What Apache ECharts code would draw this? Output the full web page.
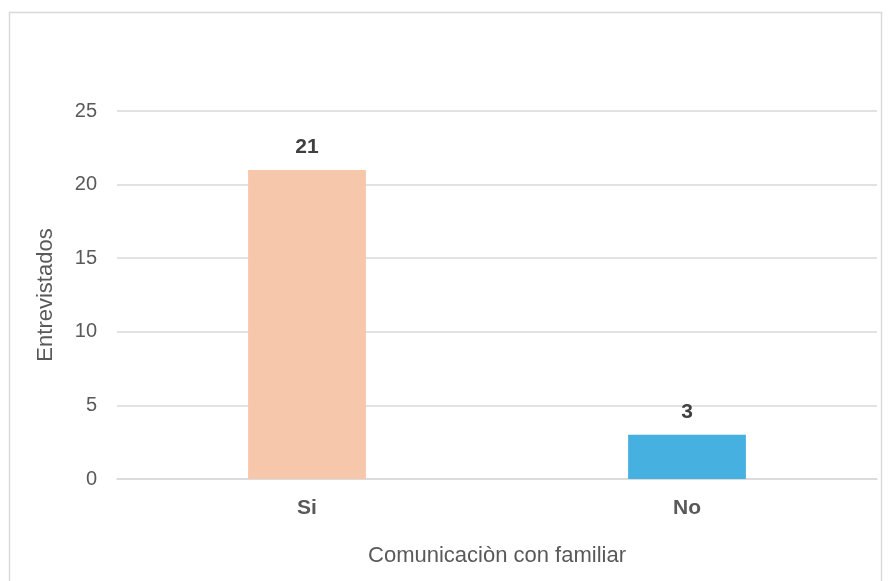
<!DOCTYPE html>
<html><head><meta charset="utf-8">
<script src="https://cdn.jsdelivr.net/npm/echarts@6/dist/echarts.min.js"></script>
<style>html,body{margin:0;padding:0;background:#fff}#c{width:891px;height:581px}</style>
</head><body><div id="c"></div>
<script>
const categories = ['Si', 'No'];
const values = [21, 3];
const barColors = ['#F6C7AB', '#46B0E0'];
const yTicks = { min: 0, max: 25, interval: 5 };
const xTitle = 'Comunicaciòn con familiar';
const yTitle = 'Entrevistados';

const chart = echarts.init(document.getElementById('c'), null, { renderer: 'canvas' });
const font = '"Liberation Sans", Arial, sans-serif';
chart.setOption({
  animation: false,
  backgroundColor: '#fff',
  textStyle: { fontFamily: font },
  graphic: [{
    type: 'rect', shape: { x: 9.5, y: 12.5, width: 872, height: 580 },
    style: { fill: 'none', stroke: '#D9D9D9', lineWidth: 1.5 }, silent: true, z: -1
  }],
  grid: { left: 117, right: 14, top: 111, bottom: 102 },
  xAxis: {
    type: 'category', data: categories,
    axisTick: { show: false },
    axisLine: { lineStyle: { color: '#D9D9D9', width: 1.5 } },
    axisLabel: { color: '#595959', fontSize: 21, fontWeight: 'bold', fontFamily: font, margin: 19 },
    name: xTitle, nameLocation: 'middle', nameGap: 66,
    nameTextStyle: { color: '#595959', fontSize: 22, fontFamily: font }
  },
  yAxis: {
    type: 'value', min: yTicks.min, max: yTicks.max, interval: yTicks.interval,
    axisLine: { show: false }, axisTick: { show: false },
    splitLine: { lineStyle: { color: '#D9D9D9', width: 1.5 } },
    axisLabel: { color: '#595959', fontSize: 20, fontFamily: font, margin: 20 },
    name: yTitle, nameLocation: 'middle', nameGap: 60,
    nameTextStyle: { color: '#595959', fontSize: 22, fontFamily: font }
  },
  series: [{
    type: 'bar', barWidth: '31%',
    data: values.map((v, i) => ({ value: v, itemStyle: { color: barColors[i] } })),
    label: { show: true, position: 'top', distance: 12, color: '#404040', fontSize: 21, fontWeight: 'bold', fontFamily: font }
  }]
});
</script></body></html>
